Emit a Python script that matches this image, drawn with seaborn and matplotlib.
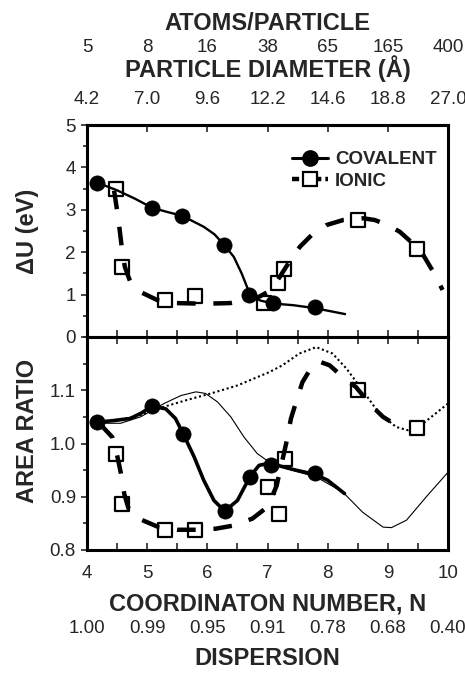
import matplotlib
matplotlib.use("Agg")
import matplotlib.pyplot as plt
from matplotlib.lines import Line2D
from matplotlib.ticker import MultipleLocator, FixedLocator
import seaborn as sns

sns.set_style("ticks")
plt.rcParams['font.family'] = ['Liberation Sans', 'DejaVu Sans']

# --- values ---
coord_ticks = [4, 5, 6, 7, 8, 9, 10]
diameter_labels = ["4.2", "7.0", "9.6", "12.2", "14.6", "18.8", "27.0"]
atoms_labels = ["5", "8", "16", "38", "65", "165", "400"]
dispersion_labels = ["1.00", "0.99", "0.95", "0.91", "0.78", "0.68", "0.40"]

# top panel, delta U (eV)
du_cov_n = [4.17, 5.08, 5.58, 6.28, 6.69, 7.09, 7.79]
du_cov = [3.64, 3.05, 2.86, 2.17, 1.00, 0.81, 0.71]
du_cov_fit_n = [4.17, 4.50, 4.80, 5.08, 5.33, 5.58, 5.94, 6.12, 6.28, 6.44,
                6.57, 6.66, 6.72, 6.88, 7.09, 7.43, 7.79, 8.29]
du_cov_fit = [3.64, 3.46, 3.26, 3.05, 2.95, 2.86, 2.60, 2.42, 2.17, 1.89,
              1.50, 1.18, 0.98, 0.86, 0.79, 0.75, 0.68, 0.54]

du_ion_n = [4.48, 4.59, 5.29, 5.79, 6.94, 7.18, 7.28, 8.50, 9.49]
du_ion = [3.48, 1.65, 0.88, 0.97, 0.80, 1.28, 1.61, 2.77, 2.07]
du_ion_fit_n = [4.45, 4.52, 4.59, 4.63, 4.72, 4.89, 5.17, 5.47, 5.80, 6.10,
                6.38, 6.66, 6.85, 7.00, 7.15, 7.38, 7.54, 7.73, 7.98, 8.26,
                8.59, 8.78, 9.00, 9.20, 9.42, 9.59, 9.77, 9.91]
du_ion_fit = [3.45, 2.80, 1.97, 1.65, 1.30, 1.06, 0.87, 0.80, 0.79, 0.79,
              0.80, 0.87, 0.94, 1.06, 1.30, 1.81, 2.13, 2.40, 2.64, 2.76,
              2.80, 2.76, 2.64, 2.48, 2.20, 1.93, 1.50, 1.11]

# bottom panel, area ratio
ar_cov_n = [4.17, 5.08, 5.60, 6.29, 6.71, 7.06, 7.79]
ar_cov = [1.040, 1.070, 1.018, 0.873, 0.938, 0.959, 0.945]
ar_cov_fit_n = [4.17, 4.44, 4.72, 4.90, 5.08, 5.31, 5.47, 5.60, 5.78, 5.94,
                6.11, 6.29, 6.50, 6.71, 6.86, 7.03, 7.47, 7.79, 8.00, 8.28]
ar_cov_fit = [1.040, 1.043, 1.047, 1.057, 1.070, 1.065, 1.047, 1.018, 0.975, 0.931,
              0.893, 0.873, 0.893, 0.938, 0.959, 0.963, 0.950, 0.942, 0.931, 0.906]

ar_thin_n = [4.17, 4.56, 4.89, 5.28, 5.56, 5.81, 5.97, 6.17, 6.39, 6.61, 6.83,
             7.03, 7.31, 7.81, 8.25, 8.58, 8.92, 9.06, 9.31, 9.64, 10.0]
ar_thin = [1.038, 1.038, 1.050, 1.075, 1.090, 1.097, 1.094, 1.078, 1.050, 1.012, 0.981,
           0.965, 0.953, 0.937, 0.909, 0.871, 0.843, 0.842, 0.856, 0.900, 0.946]

ar_dot_n = [4.17, 4.83, 5.22, 5.67, 6.06, 6.50, 7.03, 7.25, 7.53, 7.81, 8.08,
            8.31, 8.58, 8.86, 9.14, 9.33, 9.58, 10.0]
ar_dot = [1.038, 1.051, 1.067, 1.082, 1.094, 1.109, 1.134, 1.147, 1.169, 1.181, 1.169,
          1.141, 1.100, 1.056, 1.031, 1.025, 1.037, 1.075]

ar_ion_n = [4.49, 4.58, 5.29, 5.79, 7.00, 7.19, 7.29, 8.50, 9.49]
ar_ion = [0.980, 0.887, 0.837, 0.837, 0.918, 0.868, 0.970, 1.100, 1.029]
ar_ion_fit_n = [4.22, 4.42, 4.50, 4.56, 4.62, 4.69, 4.80, 4.92, 5.19, 5.50,
                5.83, 6.14, 6.44, 6.75, 7.00, 7.15, 7.31, 7.39, 7.50, 7.58,
                7.75, 7.88, 8.03, 8.28, 8.47, 8.72, 8.92, 9.19]
ar_ion_fit = [1.036, 1.012, 0.978, 0.946, 0.905, 0.878, 0.862, 0.856, 0.843, 0.838,
              0.838, 0.840, 0.846, 0.859, 0.881, 0.920, 1.000, 1.047, 1.087, 1.115,
              1.147, 1.153, 1.147, 1.122, 1.106, 1.072, 1.050, 1.031]

TICK_FS = 13.5
LAB_FS = 17
SPINE_W = 2.2
DASH = (0, (4.2, 4.0))

fig = plt.figure(figsize=(4.65, 6.77), dpi=100)
ax1 = fig.add_axes([87 / 465, 1 - 337 / 677, 361 / 465, 212 / 677])
ax2 = fig.add_axes([87 / 465, 1 - 550 / 677, 361 / 465, 213 / 677])

# top panel
sns.lineplot(x=du_cov_fit_n, y=du_cov_fit, ax=ax1, color='black', lw=1.7,
             estimator=None, sort=False, zorder=3)
sns.lineplot(x=du_ion_fit_n, y=du_ion_fit, ax=ax1, color='black', lw=3.2,
             linestyle=DASH, estimator=None, sort=False, zorder=3)
sns.scatterplot(x=du_ion_n, y=du_ion, ax=ax1, marker='s', s=95, color='white',
                edgecolor='black', linewidth=1.6, zorder=2)
sns.scatterplot(x=du_cov_n, y=du_cov, ax=ax1, marker='o', s=120, color='black',
                edgecolor='black', linewidth=0.5, zorder=4)

# bottom panel
sns.lineplot(x=ar_thin_n, y=ar_thin, ax=ax2, color='black', lw=0.8,
             estimator=None, sort=False, zorder=2)
sns.lineplot(x=ar_dot_n, y=ar_dot, ax=ax2, color='black', lw=1.5,
             linestyle=(0, (1, 1.3)), estimator=None, sort=False, zorder=2)
sns.lineplot(x=ar_cov_fit_n, y=ar_cov_fit, ax=ax2, color='black', lw=2.6,
             estimator=None, sort=False, zorder=3)
sns.lineplot(x=ar_ion_fit_n, y=ar_ion_fit, ax=ax2, color='black', lw=3.2,
             linestyle=DASH, estimator=None, sort=False, zorder=3)
sns.scatterplot(x=ar_ion_n, y=ar_ion, ax=ax2, marker='s', s=95, color='white',
                edgecolor='black', linewidth=1.6, zorder=2.5)
sns.scatterplot(x=ar_cov_n, y=ar_cov, ax=ax2, marker='o', s=120, color='black',
                edgecolor='black', linewidth=0.5, zorder=4)

for ax in (ax1, ax2):
    ax.set_xlim(4, 10)
    ax.set_xlabel("")
    ax.set_ylabel("")
    for sp in ax.spines.values():
        sp.set_linewidth(SPINE_W)
        sp.set_color('black')
    ax.xaxis.set_major_locator(MultipleLocator(1))
    ax.xaxis.set_minor_locator(MultipleLocator(0.5))
    ax.tick_params(axis='x', which='both', direction='in', length=5, width=1.2,
                   top=True, bottom=True, labelsize=TICK_FS, pad=11)
    ax.tick_params(axis='y', which='both', direction='out', width=1.2,
                   labelsize=TICK_FS, pad=4, right=False)
    ax.tick_params(axis='y', which='major', length=4)
    ax.tick_params(axis='y', which='minor', length=3)

ax1.tick_params(axis='x', which='both', top=False, labelbottom=False)
ax1.set_ylim(0, 5)
ax1.yaxis.set_major_locator(MultipleLocator(1))
ax1.yaxis.set_minor_locator(MultipleLocator(0.5))

ax2.set_ylim(0.8, 1.2)
ax2.yaxis.set_major_locator(FixedLocator([0.8, 0.9, 1.0, 1.1]))
ax2.yaxis.set_minor_locator(MultipleLocator(0.05))
ax2.set_yticklabels(["0.8", "0.9", "1.0", "1.1"])
ax2.set_xticks(coord_ticks)
ax2.set_xticklabels([str(v) for v in coord_ticks])
ax2.set_xlabel("COORDINATON NUMBER, N", fontsize=LAB_FS, fontweight='bold', labelpad=7)

ax1.set_ylabel("ΔU (eV)", fontsize=LAB_FS, fontweight='bold')
ax1.yaxis.set_label_coords(-0.134, 0.5)
ax2.set_ylabel("AREA RATIO", fontsize=LAB_FS, fontweight='bold')
ax2.yaxis.set_label_coords(-0.134, 0.56)

# top scales: particle diameter and atoms per particle
sec_d = ax1.secondary_xaxis('top')
sec_d.set_xticks(coord_ticks)
sec_d.set_xticklabels(diameter_labels)
sec_d.tick_params(direction='in', length=5, width=1.2, labelsize=TICK_FS, pad=12)
sec_d.spines['top'].set_linewidth(SPINE_W)
sec_d.set_xlabel("PARTICLE DIAMETER (Å)", fontsize=LAB_FS, fontweight='bold', labelpad=10)

sec_a = ax1.secondary_xaxis(1 + 52 / 212)
sec_a.set_xticks(coord_ticks)
sec_a.set_xticklabels(atoms_labels)
sec_a.tick_params(length=0, labelsize=TICK_FS, pad=12)
sec_a.spines['top'].set_visible(False)
sec_a.set_xlabel("ATOMS/PARTICLE", fontsize=LAB_FS, fontweight='bold', labelpad=7)

# bottom scale: dispersion
sec_p = ax2.secondary_xaxis(-56 / 213)
sec_p.set_xticks(coord_ticks)
sec_p.set_xticklabels(dispersion_labels)
sec_p.tick_params(length=0, labelsize=TICK_FS, pad=10)
sec_p.spines['bottom'].set_visible(False)
sec_p.set_xlabel("DISPERSION", fontsize=LAB_FS, fontweight='bold', labelpad=7)

handles = [
    Line2D([], [], color='black', lw=2.2, marker='o', markersize=11),
    Line2D([], [], color='black', lw=3.2, linestyle=(0, (1.6, 0.9)), marker='s',
           markersize=10, markerfacecolor='white', markeredgewidth=1.6),
]
ax1.legend(handles, ["COVALENT", "IONIC"], loc='upper right', frameon=False,
           prop={'weight': 'bold', 'size': 13.5}, handlelength=1.9,
           handletextpad=0.4, labelspacing=0.25, borderaxespad=0.2,
           bbox_to_anchor=(1.0, 0.93))

fig.savefig("out.png", dpi=100)
